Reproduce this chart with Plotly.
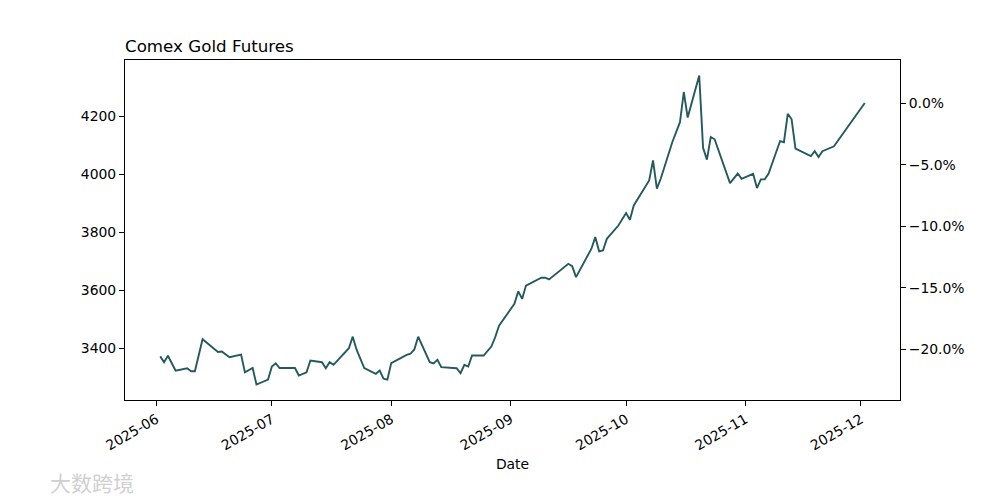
import pandas as pd
import plotly.graph_objects as go

dates = [
    "2025-06-02", "2025-06-03", "2025-06-04", "2025-06-05", "2025-06-06",
    "2025-06-09", "2025-06-10", "2025-06-11", "2025-06-13", "2025-06-17",
    "2025-06-18", "2025-06-20", "2025-06-23", "2025-06-24", "2025-06-26",
    "2025-06-27", "2025-06-30", "2025-07-01", "2025-07-02", "2025-07-03",
    "2025-07-07", "2025-07-08", "2025-07-10", "2025-07-11", "2025-07-14",
    "2025-07-15", "2025-07-16", "2025-07-17", "2025-07-21", "2025-07-22",
    "2025-07-23", "2025-07-25", "2025-07-28", "2025-07-29", "2025-07-30",
    "2025-07-31", "2025-08-01", "2025-08-05", "2025-08-06", "2025-08-07",
    "2025-08-08", "2025-08-11", "2025-08-12", "2025-08-13", "2025-08-14",
    "2025-08-18", "2025-08-19", "2025-08-20", "2025-08-21", "2025-08-22",
    "2025-08-25", "2025-08-27", "2025-08-28", "2025-08-29", "2025-09-02",
    "2025-09-03", "2025-09-04", "2025-09-05", "2025-09-09", "2025-09-10",
    "2025-09-11", "2025-09-16", "2025-09-17", "2025-09-18", "2025-09-22",
    "2025-09-23", "2025-09-24", "2025-09-25", "2025-09-26", "2025-09-29",
    "2025-10-01", "2025-10-02", "2025-10-03", "2025-10-07", "2025-10-08",
    "2025-10-09", "2025-10-10", "2025-10-13", "2025-10-15", "2025-10-16",
    "2025-10-17", "2025-10-20", "2025-10-21", "2025-10-22", "2025-10-23",
    "2025-10-24", "2025-10-28", "2025-10-30", "2025-10-31", "2025-11-03",
    "2025-11-04", "2025-11-05", "2025-11-06", "2025-11-07", "2025-11-10",
    "2025-11-11", "2025-11-12", "2025-11-13", "2025-11-14", "2025-11-18",
    "2025-11-19", "2025-11-20", "2025-11-21", "2025-11-24", "2025-12-02",
]
prices = [
    3373, 3353, 3375, 3350, 3324,
    3332, 3322, 3322, 3432, 3388,
    3390, 3370, 3379, 3318, 3333,
    3276, 3293, 3338, 3349, 3333,
    3333, 3307, 3318, 3359, 3353,
    3332, 3353, 3344, 3401, 3441,
    3396, 3333, 3313, 3324, 3296,
    3293, 3350, 3378, 3382, 3397,
    3441, 3353, 3349, 3361, 3336,
    3332, 3315, 3344, 3338, 3376,
    3376, 3407, 3439, 3479, 3554,
    3597, 3571, 3617, 3644, 3644,
    3638, 3692, 3684, 3646, 3744,
    3784, 3735, 3738, 3778, 3824,
    3867, 3844, 3893, 3979, 4048,
    3951, 3985, 4111, 4180, 4284,
    4196, 4341, 4092, 4051, 4129,
    4121, 3970, 4003, 3985, 4002,
    3953, 3983, 3983, 4002, 4115,
    4111, 4209, 4190, 4089, 4063,
    4080, 4060, 4080, 4097, 4246,
]
title_text = "Comex Gold Futures"
x_label = "Date"
watermark = "大数跨境"

x = pd.to_datetime(dates)
last = prices[-1]
pct = [p / last - 1 for p in prices]

# matplotlib-like 5% margins
xspan = x.max() - x.min()
xr = [x.min() - xspan * 0.05, x.max() + xspan * 0.05]
ymin, ymax = min(prices), max(prices)
ys = ymax - ymin
yr = [ymin - 0.05 * ys, ymax + 0.05 * ys]
y2r = [yr[0] / last - 1, yr[1] / last - 1]

line_color = "#245a5f"
font = dict(family="DejaVu Sans", size=13.9, color="black")

fig = go.Figure()
fig.add_trace(go.Scatter(x=x, y=prices, mode="lines",
                         line=dict(color=line_color, width=1.9),
                         showlegend=False))
fig.add_trace(go.Scatter(x=x, y=pct, mode="lines", yaxis="y2",
                         line=dict(color="rgba(0,0,0,0)", width=0),
                         hoverinfo="skip", showlegend=False))

axis_common = dict(showgrid=False, zeroline=False, showline=True,
                   linecolor="black", linewidth=1, ticks="outside",
                   ticklen=5, tickwidth=1, tickcolor="black",
                   tickfont=font)

fig.update_layout(
    width=1000, height=500,
    margin=dict(l=125, r=100, t=60, b=100),
    paper_bgcolor="white", plot_bgcolor="white",
    font=font,
    title=dict(text=title_text, x=125 / 1000, xanchor="left",
               y=1 - 46 / 500, yanchor="middle",
               font=dict(family="DejaVu Sans", size=16.7, color="black")),
    xaxis=dict(**axis_common, range=xr, type="date",
               dtick="M1", tick0="2025-06-01", tickformat="%Y-%m",
               tickangle=-30, mirror=True,
               title=dict(text=x_label, font=font, standoff=6)),
    yaxis=dict(**axis_common, range=yr, dtick=200, tick0=0),
    yaxis2=dict(**axis_common, range=y2r, overlaying="y", side="right",
                dtick=0.05, tick0=0, tickformat=".1%"),
)

fig.add_annotation(text=watermark, xref="paper", yref="paper",
                   x=(48 - 125) / 775, y=(400 - 482) / 340,
                   xanchor="left", yanchor="middle",
                   showarrow=False,
                   font=dict(family="Noto Sans CJK SC", size=21,
                             color="#d0d0d0"))

fig.write_html("out.html",
               config={"displayModeBar": False},
               post_script="document.body.style.margin='0';"
                           "document.body.style.overflow='hidden';")
